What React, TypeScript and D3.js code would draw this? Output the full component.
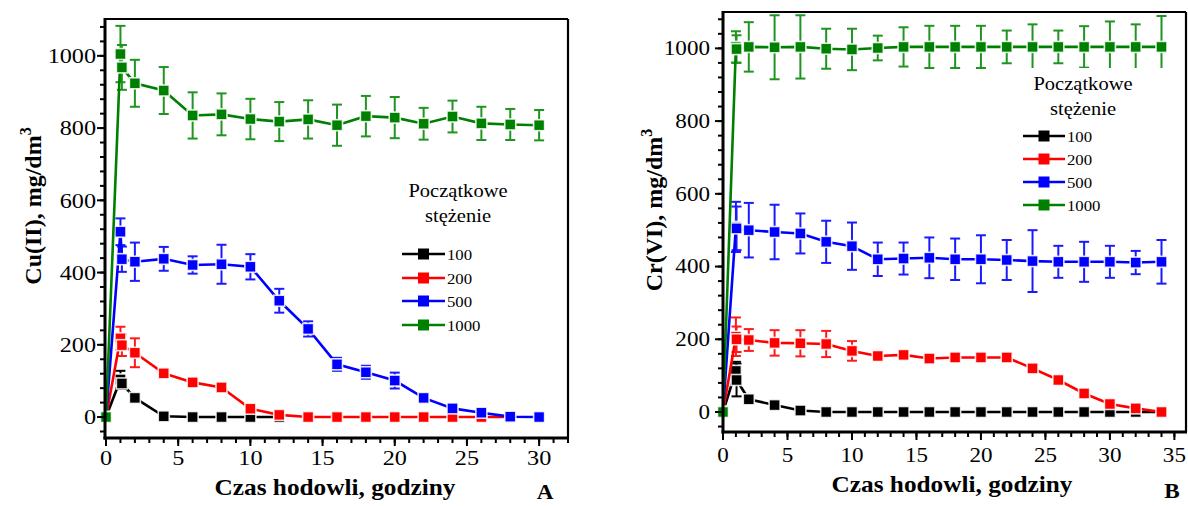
import React from "react";
import * as d3 from "d3";

// ---------- DATA ----------
const seriesNames = ["100", "200", "500", "1000"];
const seriesColors = ["#000000", "#ff0000", "#0000ff", "#008000"];
const errColors = ["#000000", "#ff1a1a", "#1a1aff", "#1f951f"];

// Panel A (Cu(II))
const tA = [0, 1, 1.1, 2, 4, 6, 8, 10, 12, 14, 16, 18, 20, 22, 24, 26, 28, 30];
const blackA = [0, 104, 93, 53, 2, 0, 0, 0, 0];
const blackAErr = [0, 24, 15, 8, 5, 3, 3, 3, 3];
const redA = [0, 218, 199, 178, 121, 96, 82, 23, 6, 0, 0, 0, 0, 0, 0, 0, 0];
const redAErr = [0, 32, 30, 40, 10, 8, 8, 8, 6, 3, 3, 3, 3, 3, 3, 3, 3];
const blueA = [0, 513, 437, 430, 438, 421, 423, 416, 322, 244, 146, 124, 101, 53, 24, 12, 1, 0];
const blueAErr = [0, 37, 35, 53, 33, 24, 54, 35, 33, 21, 18, 18, 22, 8, 6, 5, 3, 3];
const greenA = [0, 1005, 968, 924, 904, 835, 838, 825, 818, 824, 808, 833, 829, 812, 832, 813, 810, 808];
const greenAErr = [0, 78, 62, 65, 65, 64, 58, 56, 54, 53, 57, 56, 57, 44, 44, 46, 43, 42];

// Panel B (Cr(VI))
const tB = [0, 1, 1.05, 2, 4, 6, 8, 10, 12, 14, 16, 18, 20, 22, 24, 26, 28, 30, 32, 34];
const blackB = [0, 113, 88, 35, 19, 4, 0, 0, 0, 0, 0, 0, 0, 0, 0, 0, 0, 0, 0, 0];
const blackBErr = [0, 25, 45, 6, 5, 3, 3, 3, 3, 3, 3, 3, 3, 3, 3, 3, 3, 3, 3, 3];
const redB = [0, 207, 200, 198, 190, 189, 187, 168, 154, 157, 147, 150, 150, 150, 120, 88, 51, 22, 10, 0];
const redBErr = [0, 53, 35, 30, 35, 36, 36, 27, 8, 8, 7, 7, 7, 7, 7, 7, 7, 6, 5, 4];
const blueB = [0, 509, 505, 500, 495, 491, 468, 456, 420, 422, 424, 420, 420, 418, 415, 413, 413, 413, 411, 413];
const blueBErr = [0, 69, 60, 75, 75, 55, 58, 65, 46, 44, 56, 57, 66, 55, 85, 44, 55, 44, 32, 60];
const greenB = [0, 1004, 998, 1004, 1003, 1004, 999, 997, 1001, 1004, 1004, 1004, 1004, 1004, 1004, 1004, 1004, 1004, 1004, 1004];
const greenBErr = [0, 43, 38, 68, 88, 87, 55, 57, 34, 54, 58, 58, 58, 45, 62, 45, 57, 70, 62, 85];

const yTickValues = [0, 200, 400, 600, 800, 1000];
const xTicksA = [0, 5, 10, 15, 20, 25, 30];
const xTicksB = [0, 5, 10, 15, 20, 25, 30, 35];

const legendTitle = ["Początkowe", "stężenie"];
const xLabel = "Czas hodowli, godziny";

// ---------- HELPERS ----------
const SERIF = "Liberation Serif, Times New Roman, Times, serif";

type Series = { t: number[]; v: number[]; e: number[] };

function ST({ x, y, sx = 1.1, anchor = "start", size, weight = "normal", children }: any) {
  return (
    <text
      transform={`translate(${x},${y}) scale(${sx},1)`}
      textAnchor={anchor}
      style={{ fontFamily: SERIF, fontSize: size, fontWeight: weight }}
      fill="#000"
    >
      {children}
    </text>
  );
}

function Panel(props: any) {
  const {
    xDomain, xRange, yDomain, yRange, xTicks, xMax, series, legend, tickSize,
    xTickBaseline, yTickRight, yLabel, yLabelPos, xLabelPos, letter, letterPos, legendBox,
  } = props;
  const x = d3.scaleLinear().domain(xDomain).range(xRange);
  const y = d3.scaleLinear().domain(yDomain).range(yRange);
  const [x0, x1] = xRange;
  const [yb, yt] = yRange;
  const minorX = d3.range(0, xMax + 0.01, 1);
  const minorY = d3.range(-40, yDomain[1], 40);
  const line = d3.line<[number, number]>().x((d) => x(d[0])).y((d) => y(d[1]));
  const ms = 11;

  return (
    <g>
      {series.map((s: Series, i: number) => {
        const pts: [number, number][] = s.v.map((v, k) => [s.t[k], v]);
        return (
          <g key={i}>
            {pts.map((p, k) =>
              s.e[k] > 0 ? (
                <g key={k} stroke={errColors[i]} strokeWidth={2}>
                  <line x1={x(p[0])} x2={x(p[0])} y1={y(p[1] - s.e[k])} y2={y(p[1] + s.e[k])} />
                  <line x1={x(p[0]) - 5} x2={x(p[0]) + 5} y1={y(p[1] + s.e[k])} y2={y(p[1] + s.e[k])} />
                  <line x1={x(p[0]) - 5} x2={x(p[0]) + 5} y1={y(p[1] - s.e[k])} y2={y(p[1] - s.e[k])} />
                </g>
              ) : null
            )}
            <path d={line(pts) || ""} fill="none" stroke={seriesColors[i]} strokeWidth={2.6} />
            {pts.map((p, k) => (
              <rect
                key={k}
                x={x(p[0]) - ms / 2}
                y={y(p[1]) - ms / 2}
                width={ms}
                height={ms}
                fill={seriesColors[i]}
                stroke="#ffffff"
                strokeOpacity={0.85}
                strokeWidth={1.6}
              />
            ))}
          </g>
        );
      })}

      {legendBox && (
        <rect x={legendBox[0]} y={legendBox[1]} width={legendBox[2]} height={legendBox[3]} fill="#fff" />
      )}

      <line x1={x0} x2={x1} y1={yt} y2={yt} stroke="#000" strokeWidth={2.2} />
      <line x1={x1} x2={x1} y1={yt} y2={yb} stroke="#000" strokeWidth={2.2} />
      <line x1={x0} x2={x0} y1={yt - 1} y2={yb + 1.5} stroke="#000" strokeWidth={3} />
      <line x1={x0 - 1.5} x2={x1 + 1} y1={yb} y2={yb} stroke="#000" strokeWidth={3} />

      {minorX.map((v: number) => (
        <line key={"mx" + v} x1={x(v)} x2={x(v)} y1={yb} y2={yb + 5} stroke="#000" strokeWidth={2} />
      ))}
      {xTicks.map((v: number) => (
        <g key={"x" + v}>
          <line x1={x(v)} x2={x(v)} y1={yb} y2={yb + 8} stroke="#000" strokeWidth={2} />
          <ST x={x(v)} y={xTickBaseline} anchor="middle" size={tickSize}>{v}</ST>
        </g>
      ))}
      {minorY.map((v: number) => (
        <line key={"my" + v} x1={x0 - 5} x2={x0} y1={y(v)} y2={y(v)} stroke="#000" strokeWidth={2} />
      ))}
      {yTickValues.map((v) => (
        <g key={"y" + v}>
          <line x1={x0 - 8} x2={x0} y1={y(v)} y2={y(v)} stroke="#000" strokeWidth={2} />
          <ST x={yTickRight} y={y(v) + tickSize * 0.33} anchor="end" size={tickSize}>{v}</ST>
        </g>
      ))}

      <ST x={xLabelPos[0]} y={xLabelPos[1]} anchor="middle" size={23} weight="bold" sx={1.1}>{xLabel}</ST>
      <text
        transform={`translate(${yLabelPos[0]},${yLabelPos[1]}) rotate(-90)`}
        textAnchor="middle"
        style={{ fontFamily: SERIF, fontSize: 24, fontWeight: "bold" }}
      >
        {yLabel}, mg/dm<tspan dy={-10} style={{ fontSize: 16 }}>3</tspan>
      </text>
      <ST x={letterPos[0]} y={letterPos[1]} anchor="middle" size={22} weight="bold" sx={1.05}>{letter}</ST>

      <ST x={legend.cx} y={legend.t1} anchor="middle" size={19} sx={1.08}>{legendTitle[0]}</ST>
      <ST x={legend.cx} y={legend.t2} anchor="middle" size={19} sx={1.08}>{legendTitle[1]}</ST>
      {seriesNames.map((n, i) => {
        const yy = legend.rows[i];
        return (
          <g key={n}>
            <line x1={legend.lx0} x2={legend.lx1} y1={yy} y2={yy} stroke={seriesColors[i]} strokeWidth={2.5} />
            <rect x={(legend.lx0 + legend.lx1) / 2 - 5.5} y={yy - 5.5} width={11} height={11} fill={seriesColors[i]} />
            <ST x={legend.lx1 + 2} y={yy + 5.5} size={15.5} sx={1.08}>{n}</ST>
          </g>
        );
      })}
    </g>
  );
}

export default function App() {
  const seriesA: Series[] = [
    { t: tA.slice(0, blackA.length), v: blackA, e: blackAErr },
    { t: tA.slice(0, redA.length), v: redA, e: redAErr },
    { t: tA.slice(0, blueA.length), v: blueA, e: blueAErr },
    { t: tA.slice(0, greenA.length), v: greenA, e: greenAErr },
  ];
  const seriesB: Series[] = [
    { t: tB, v: blackB, e: blackBErr },
    { t: tB, v: redB, e: redBErr },
    { t: tB, v: blueB, e: blueBErr },
    { t: tB, v: greenB, e: greenBErr },
  ];
  return (
    <svg
      width={1188}
      height={506}
      viewBox="0 0 1188 506"
      style={{ position: "absolute", left: 0, top: 0, background: "#fff" }}
    >
      <rect x={0} y={0} width={1188} height={506} fill="#fff" />
      <Panel
        xDomain={[-0.07, 32]}
        xRange={[105, 568]}
        yDomain={[-58, 1102]}
        yRange={[438, 19]}
        xTicks={xTicksA}
        xMax={32}
        series={seriesA}
        tickSize={22}
        xTickBaseline={465}
        yTickRight={96}
        yLabel="Cu(II)"
        yLabelPos={[41, 206]}
        xLabelPos={[335, 495]}
        letter="A"
        letterPos={[545, 499]}
        legend={{ cx: 458, t1: 197, t2: 222, rows: [254, 278, 301, 325], lx0: 402, lx1: 445 }}
      />
      <Panel
        xDomain={[0, 35.9]}
        xRange={[723, 1186]}
        yDomain={[-55, 1100]}
        yRange={[432, 12]}
        xTicks={xTicksB}
        xMax={35}
        series={seriesB}
        tickSize={21}
        xTickBaseline={462}
        yTickRight={710}
        yLabel="Cr(VI)"
        yLabelPos={[662, 210]}
        xLabelPos={[952, 492]}
        letter="B"
        letterPos={[1172, 498]}
        legendBox={[1000, 68, 168, 150]}
        legend={{ cx: 1083, t1: 90, t2: 115, rows: [136, 159, 182, 205], lx0: 1023, lx1: 1065 }}
      />
    </svg>
  );
}
